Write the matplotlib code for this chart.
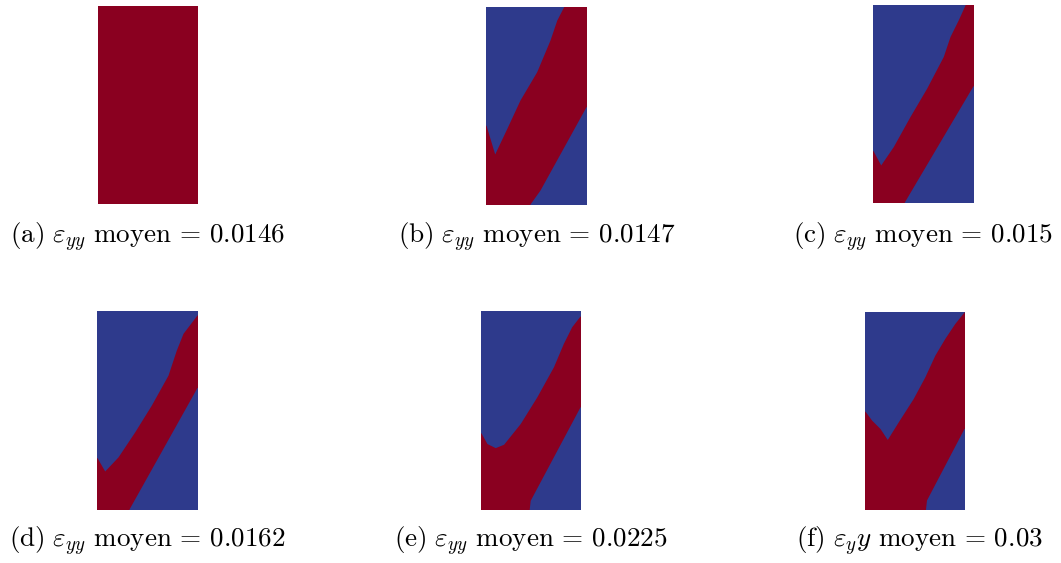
import matplotlib
matplotlib.use("Agg")
import matplotlib.pyplot as plt
import numpy as np

plt.rcParams['mathtext.fontset'] = 'cm'

RED = '#8a0020'
BLUE = '#2e3a8c'

# captions
letters = ['a', 'b', 'c', 'd', 'e', 'f']
subscripts = ['yy', 'yy', 'yy', 'yy', 'yy', 'y']
suffixes = ['', '', '', '', '', 'y']
means = ['0.0146', '0.0147', '0.015', '0.0162', '0.0225', '0.03']

# boundary of the blue zone at top-left (x in 0..1, y in 0..2, from bottom)
a_top_x, a_top_y = [], []
b_top_x = [0.0, 0.087, 0.20, 0.34, 0.507, 0.64, 0.708, 0.775, 0.80]
b_top_y = [0.80, 0.508, 0.75, 1.056, 1.343, 1.665, 1.868, 2.0, 2.1]
c_top_x = [0.0, 0.077, 0.203, 0.37, 0.537, 0.703, 0.77, 0.853, 0.92, 0.95]
c_top_y = [0.522, 0.376, 0.563, 0.868, 1.156, 1.478, 1.68, 1.85, 2.0, 2.1]
d_top_x = [0.0, 0.077, 0.21, 0.377, 0.543, 0.71, 0.793, 0.86, 1.0]
d_top_y = [0.519, 0.384, 0.526, 0.779, 1.049, 1.352, 1.605, 1.774, 1.96]
e_top_x = [0.0, 0.06, 0.144, 0.228, 0.396, 0.564, 0.732, 0.832, 0.916, 1.0]
e_top_y = [0.769, 0.661, 0.62, 0.654, 0.863, 1.133, 1.437, 1.673, 1.841, 1.949]
f_top_x = [0.0, 0.067, 0.151, 0.225, 0.336, 0.487, 0.604, 0.705, 0.805, 0.906, 1.0]
f_top_y = [0.993, 0.902, 0.818, 0.706, 0.885, 1.122, 1.341, 1.561, 1.73, 1.882, 2.0]

# boundary of the blue zone at bottom-right
a_bot_x, a_bot_y = [], []
b_bot_x = [0.44, 0.54, 1.0]
b_bot_y = [0.0, 0.142, 0.988]
c_bot_x = [0.313, 1.0]
c_bot_y = [0.0, 1.18]
d_bot_x = [0.32, 1.0]
d_bot_y = [0.0, 1.228]
e_bot_x = [0.487, 0.497, 1.0]
e_bot_y = [0.0, 0.088, 1.032]
f_bot_x = [0.611, 0.621, 1.0]
f_bot_y = [0.0, 0.091, 0.818]

tops = [(a_top_x, a_top_y), (b_top_x, b_top_y), (c_top_x, c_top_y),
        (d_top_x, d_top_y), (e_top_x, e_top_y), (f_top_x, f_top_y)]
bots = [(a_bot_x, a_bot_y), (b_bot_x, b_bot_y), (c_bot_x, c_bot_y),
        (d_bot_x, d_bot_y), (e_bot_x, e_bot_y), (f_bot_x, f_bot_y)]


def pad(x, y):
    # stretch the curve a bit past the frame so the edges are clean
    x = list(x)
    y = list(y)
    if x[0] <= 0.0:
        x = [x[0] - 0.05] + x
        y = [y[0]] + y
    if x[-1] >= 1.0:
        x = x + [x[-1] + 0.05]
        y = y + [y[-1]]
    return np.array(x), np.array(y)


W, H = 1061, 563
fig = plt.figure(figsize=(W / 100, H / 100), dpi=100)

# pixel boxes of the images (left, top, right, bottom)
boxes = [(98, 6, 197, 203), (486, 7, 586, 204), (873, 5, 973, 202),
         (97, 311, 197, 509), (481, 311, 580, 509), (865, 312, 964, 509)]
cap_x = [147.5, 536.5, 923, 147, 530.5, 919]
cap_y = [243.5, 243.5, 243.5, 547, 547, 547]

for i in range(6):
    l, t, r, b = boxes[i]
    ax = fig.add_axes([l / W, 1 - b / H, (r - l) / W, (b - t) / H])
    ax.fill_between([-0.1, 1.1], -0.1, 2.1, color=RED, lw=0)
    tx, ty = tops[i]
    if tx:
        tx, ty = pad(tx, ty)
        ax.fill_between(tx, ty, 2.1, color=BLUE, lw=0)
    bx, by = bots[i]
    if bx:
        bx, by = pad(bx, by)
        ax.fill_between(bx, -0.1, by, color=BLUE, lw=0)
    ax.set_xlim(0, 1)
    ax.set_ylim(0, 2)
    ax.axis('off')

    label = (r'$\mathrm{(%s)}\ \varepsilon_{%s}%s\ \mathrm{moyen}\,=\,%s$'
             % (letters[i], subscripts[i], suffixes[i], means[i]))
    fig.text(cap_x[i] / W, 1 - cap_y[i] / H, label, fontsize=19.5,
             ha='center', va='baseline')

fig.savefig('out.png', dpi=100)
